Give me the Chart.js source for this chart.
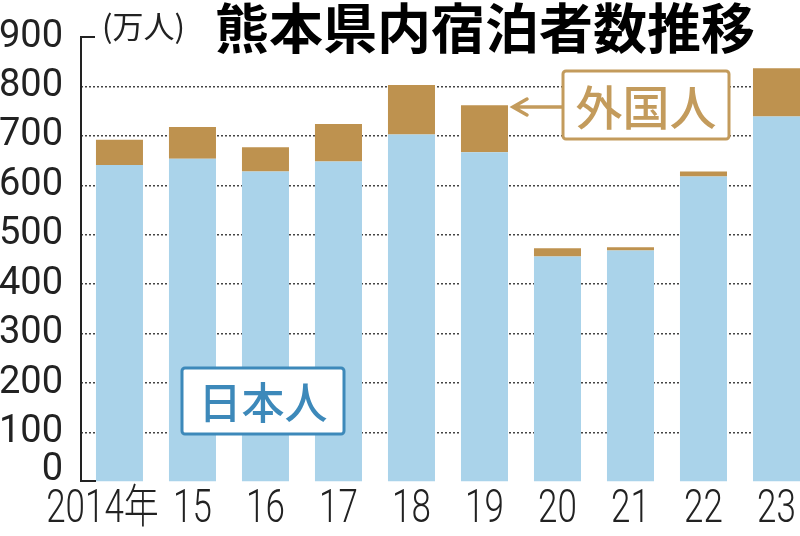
<!DOCTYPE html>
<html>
<head>
<meta charset="utf-8">
<script src="https://cdn.jsdelivr.net/npm/chart.js@4/dist/chart.umd.min.js"></script>
<style>
  html, body { margin: 0; padding: 0; background: #fff; overflow: hidden; }
  canvas { display: block; }
</style>
</head>
<body>
<canvas id="stay-chart" width="800" height="536"></canvas>
<script>
// 熊本県内宿泊者数 (万人)
const years = ["2014年", "15", "16", "17", "18", "19", "20", "21", "22", "23"];
const japanese = [641, 654, 628, 648, 703, 667, 456, 468, 618, 739];
const foreign = [51, 64, 49, 76, 100, 95, 17, 7, 10, 98];
const yTicks = [0, 100, 200, 300, 400, 500, 600, 700, 800, 900];

const BLUE = "#aad3ea";
const TAN = "#be924f";
const BOX_TAN = "#c39b5c";
const BOX_BLUE = "#3d89ba";
const CJK = "'Noto Sans CJK JP', 'Noto Sans'";

function roundBox(ctx, x, y, w, h, color) {
  ctx.save();
  ctx.fillStyle = "#fff";
  ctx.strokeStyle = color;
  ctx.lineWidth = 3;
  ctx.beginPath();
  ctx.roundRect(x, y, w, h, 3);
  ctx.fill();
  ctx.stroke();
  ctx.restore();
}

const decorations = {
  id: "decorations",
  afterDraw(chart) {
    const { ctx, chartArea } = chart;
    const xs = chart.scales.x;
    const ys = chart.scales.y;
    const left = chartArea.left;
    const top = ys.getPixelForValue(900);
    const bottom = ys.getPixelForValue(0);

    // axis with small caps at both ends
    ctx.save();
    ctx.strokeStyle = "#222";
    ctx.lineWidth = 2;
    ctx.beginPath();
    ctx.moveTo(left + 14, top);
    ctx.lineTo(left, top);
    ctx.lineTo(left, bottom - 1);
    ctx.lineTo(left + 15, bottom - 1);
    ctx.stroke();

    // the zero label sits a little above its line in the print
    ctx.fillStyle = "#222";
    ctx.font = "38px Roboto";
    ctx.textAlign = "right";
    ctx.textBaseline = "middle";
    ctx.fillText("0", left - 18, bottom - 12);

    // year labels, condensed like the print font
    ctx.font = "300 46px Roboto, " + CJK;
    ctx.textAlign = "center";
    years.forEach((label, i) => {
      const cx = xs.getPixelForValue(i) - (i === 0 ? 17 : 0);
      ctx.save();
      ctx.translate(cx, bottom + 28);
      ctx.scale(0.76, 1);
      ctx.fillText(label, 0, 0);
      ctx.restore();
    });

    // unit
    ctx.font = "31px " + CJK;
    ctx.textAlign = "left";
    ctx.fillText("(万人)", 102, 26);

    // title
    ctx.fillStyle = "#000";
    ctx.font = "bold 54px " + CJK;
    ctx.textAlign = "center";
    ctx.fillText("熊本県内宿泊者数推移", 485, 28);
    ctx.restore();

    // 外国人 label with arrow
    ctx.save();
    ctx.strokeStyle = BOX_TAN;
    ctx.lineWidth = 3.5;
    ctx.lineCap = "round";
    ctx.beginPath();
    ctx.moveTo(563, 107);
    ctx.lineTo(514, 107);
    ctx.moveTo(527, 99);
    ctx.lineTo(513, 107);
    ctx.lineTo(527, 115);
    ctx.stroke();
    ctx.restore();
    roundBox(ctx, 563, 71, 166, 68, BOX_TAN);
    ctx.save();
    ctx.fillStyle = BOX_TAN;
    ctx.font = "500 47px " + CJK;
    ctx.textAlign = "center";
    ctx.textBaseline = "middle";
    ctx.fillText("外国人", 646, 107);
    ctx.restore();

    // 日本人 label
    roundBox(ctx, 182, 368, 162, 66, BOX_BLUE);
    ctx.save();
    ctx.fillStyle = BOX_BLUE;
    ctx.font = "500 43px " + CJK;
    ctx.textAlign = "center";
    ctx.textBaseline = "middle";
    ctx.fillText("日本人", 263, 403);
    ctx.restore();
  }
};

new Chart(document.getElementById("stay-chart"), {
  type: "bar",
  data: {
    datasets: [
      {
        label: "日本人",
        backgroundColor: BLUE,
        data: japanese.map((v, i) => ({ x: i, y: v }))
      },
      {
        label: "外国人",
        backgroundColor: TAN,
        data: foreign.map((v, i) => ({ x: i, y: v }))
      }
    ]
  },
  options: {
    responsive: false,
    animation: false,
    devicePixelRatio: 1,
    layout: { padding: { top: 23, right: 0, bottom: 0, left: 0 } },
    datasets: {
      bar: { categoryPercentage: 1, barPercentage: 0.644, borderWidth: 0 }
    },
    plugins: {
      legend: { display: false },
      tooltip: { enabled: false },
      title: { display: false }
    },
    scales: {
      x: {
        type: "linear",
        stacked: true,
        offset: false,
        min: -0.527,
        max: 9.322,
        afterBuildTicks: (axis) => {
          axis.ticks = years.map((_, i) => ({ value: i }));
        },
        afterFit: (scale) => { scale.height = 54; },
        grid: { display: false, drawTicks: false },
        border: { display: false },
        ticks: { display: false }
      },
      y: {
        stacked: true,
        min: 0,
        max: 900,
        afterBuildTicks: (axis) => {
          axis.ticks = yTicks.map((v) => ({ value: v }));
        },
        afterFit: (scale) => { scale.width = 81; },
        grid: {
          drawTicks: false,
          lineWidth: 1.5,
          color: (c) => (c.tick && (c.tick.value === 0 || c.tick.value === 900)) ? "rgba(0,0,0,0)" : "#444"
        },
        border: { display: false, dash: [2, 2] },
        ticks: {
          padding: 18,
          color: "#222",
          font: { family: "Roboto", size: 38, lineHeight: 1 },
          callback: (v) => (v === 0 ? "" : v)
        }
      }
    }
  },
  plugins: [decorations]
});
</script>
</body>
</html>
